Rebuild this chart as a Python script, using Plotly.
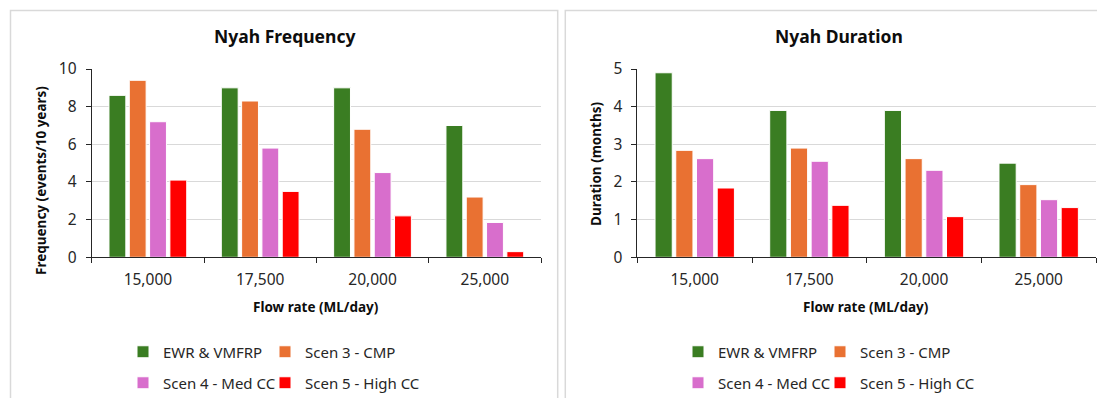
import plotly.graph_objects as go

# ---------------- data ----------------
flow_rates = ["15,000", "17,500", "20,000", "25,000"]
series_names = ["EWR & VMFRP", "Scen 3 - CMP", "Scen 4 - Med CC", "Scen 5 - High CC"]
series_colors = ["#3A7D22", "#E97132", "#D86ECC", "#FF0000"]

freq_ewr = [8.6, 9.0, 9.0, 7.0]
freq_scen3 = [9.4, 8.3, 6.8, 3.2]
freq_scen4 = [7.2, 5.8, 4.5, 1.85]
freq_scen5 = [4.1, 3.5, 2.2, 0.3]

dur_ewr = [4.9, 3.9, 3.9, 2.5]
dur_scen3 = [2.84, 2.9, 2.62, 1.93]
dur_scen4 = [2.62, 2.55, 2.31, 1.53]
dur_scen5 = [1.84, 1.38, 1.08, 1.32]

freq_title = "Nyah Frequency"
dur_title = "Nyah Duration"
freq_ytitle = "Frequency (events/10 years)"
dur_ytitle = "Duration (months)"
x_title = "Flow rate (ML/day)"

# ---------------- layout helpers ----------------
W, H = 1105, 398
OFF = 8  # page body margin offset


def fx(px):
    return (px - OFF) / W


def fy(py):
    return 1 - (py - OFF) / H


TITLE_FONT = "Noto Sans"
TICK_FONT = "Noto Sans"
TEXT_COLOR = "#262626"

fig = go.Figure()

freq_series = [freq_ewr, freq_scen3, freq_scen4, freq_scen5]
dur_series = [dur_ewr, dur_scen3, dur_scen4, dur_scen5]
left_legends = ["legend", "legend", "legend2", "legend2"]
right_legends = ["legend3", "legend3", "legend4", "legend4"]
legend_widths = [97, 140, 97, 140]

for i, vals in enumerate(freq_series):
    fig.add_trace(go.Bar(
        x=flow_rates, y=vals, name=series_names[i],
        marker=dict(color=series_colors[i], line=dict(color="white", width=1)),
        xaxis="x", yaxis="y", legend=left_legends[i], legendwidth=legend_widths[i],
    ))
for i, vals in enumerate(dur_series):
    fig.add_trace(go.Bar(
        x=flow_rates, y=vals, name=series_names[i],
        marker=dict(color=series_colors[i], line=dict(color="white", width=1)),
        xaxis="x2", yaxis="y2", legend=right_legends[i], legendwidth=legend_widths[i],
    ))

axis_common = dict(
    showline=True, linecolor=TEXT_COLOR, linewidth=1,
    ticks="outside", ticklen=5, tickcolor=TEXT_COLOR,
    tickfont=dict(family=TICK_FONT, size=15.5, color=TEXT_COLOR),
    zeroline=False,
)
y_dom = [fy(257.3), fy(69)]

x_common = dict(axis_common, type="category", tickson="boundaries",
                showgrid=False, ticklabelstandoff=8)
y_common = dict(axis_common, showgrid=True, gridcolor="#D9D9D9", gridwidth=1,
                ticklabelstandoff=6)

legend_common = dict(
    orientation="h", xanchor="left", yanchor="middle",
    font=dict(family=TITLE_FONT, size=15, color=TEXT_COLOR),
    bgcolor="rgba(0,0,0,0)",
    itemclick=False, itemdoubleclick=False,
)

row1_mid = 352
row2_mid = 383
left_leg_x = 123
right_leg_x = 123 + 555

fig.update_layout(
    width=W, height=H, autosize=False,
    margin=dict(l=0, r=0, t=0, b=0, autoexpand=False),
    paper_bgcolor="white", plot_bgcolor="white",
    barmode="group", bargap=0.277, bargroupgap=0.17,
    xaxis=dict(x_common, domain=[fx(91.7), fx(541)], anchor="y"),
    yaxis=dict(y_common, domain=y_dom, anchor="x", range=[0, 10], dtick=2),
    xaxis2=dict(x_common, domain=[fx(637.4), fx(1096)], anchor="y2"),
    yaxis2=dict(y_common, domain=y_dom, anchor="x2", range=[0, 5], dtick=1),
    legend=dict(legend_common, x=fx(left_leg_x), y=fy(row1_mid)),
    legend2=dict(legend_common, x=fx(left_leg_x), y=fy(row2_mid)),
    legend3=dict(legend_common, x=fx(right_leg_x), y=fy(row1_mid)),
    legend4=dict(legend_common, x=fx(right_leg_x), y=fy(row2_mid)),
    showlegend=True,
)

# panel borders
for x0, x1 in [(10.5, 557.7), (565.3, 1112)]:
    fig.add_shape(type="rect", xref="paper", yref="paper",
                  x0=fx(x0), x1=fx(x1), y0=fy(410), y1=fy(10.5),
                  line=dict(color="#D9D9D9", width=1.5), fillcolor="rgba(0,0,0,0)",
                  layer="below")

ann = []
# chart titles
ann.append(dict(text="<b>%s</b>" % freq_title, x=fx(284), y=fy(36)))
ann.append(dict(text="<b>%s</b>" % dur_title, x=fx(839), y=fy(36)))
# x-axis titles
ann.append(dict(text="<b>%s</b>" % x_title, x=fx(316), y=fy(307), size=13.5))
ann.append(dict(text="<b>%s</b>" % x_title, x=fx(866), y=fy(307), size=13.5))
# y-axis titles
ann.append(dict(text="<b>%s</b>" % freq_ytitle, x=fx(41), y=fy(181), size=13.5, angle=-90))
ann.append(dict(text="<b>%s</b>" % dur_ytitle, x=fx(596), y=fy(164), size=13.5, angle=-90))

for a in ann:
    fig.add_annotation(
        text=a["text"], x=a["x"], y=a["y"], xref="paper", yref="paper",
        xanchor="center", yanchor="middle", showarrow=False,
        textangle=a.get("angle", 0),
        font=dict(family=TITLE_FONT, size=a.get("size", 17.5), color="#0D0D0D"),
    )

fig.write_html("out.html")
